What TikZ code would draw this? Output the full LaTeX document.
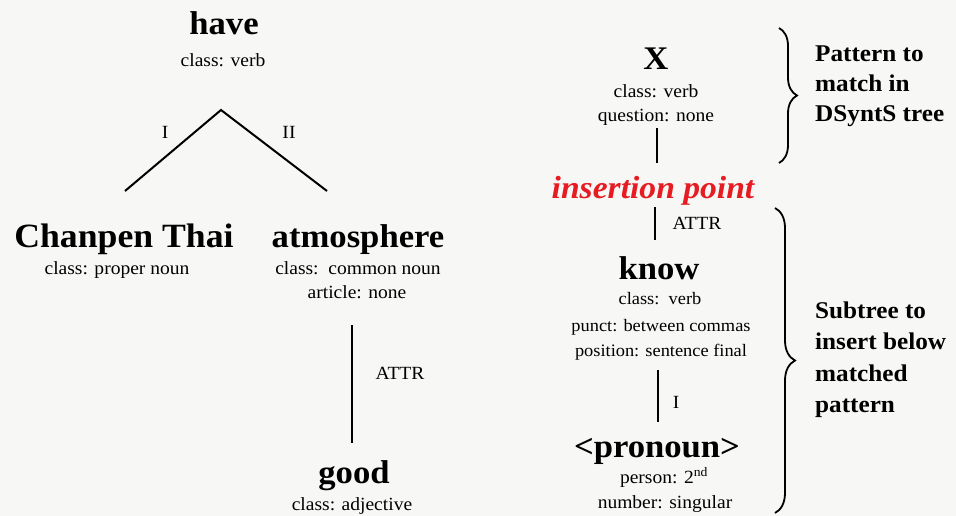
\documentclass[tikz,border=0pt]{standalone}
\usepackage{fontspec}
\setmainfont[FakeStretch=1.05]{Liberation Serif}
\usetikzlibrary{decorations.pathreplacing}
\definecolor{bg}{RGB}{247,248,245}
\definecolor{insred}{RGB}{230,28,34}
\begin{document}
\begin{tikzpicture}[x=1pt,y=-1pt,
  title/.style={anchor=base,inner sep=0pt,font=\fontsize{33}{38}\selectfont\bfseries},
  attr/.style={anchor=base,inner sep=0pt,font=\fontsize{18.6}{22}\selectfont},
  attrs/.style={anchor=base,inner sep=0pt,font=\fontsize{17.5}{21}\selectfont},
  lbl/.style={anchor=base,inner sep=0pt,font=\fontsize{18.6}{22}\selectfont},
  side/.style={anchor=base west,inner sep=0pt,font=\fontsize{24}{28}\selectfont\bfseries},
  edge/.style={line width=2pt},
  bracestyle/.style={line width=1.8pt,decorate,decoration={brace,amplitude=18pt}}]
\fill[bg] (0,0) rectangle (956,516);
\useasboundingbox (0,0) rectangle (956,516);
% left tree
\node[title] (have) at (224,35) {have};
\node[attr] (haveclass) at (223,67) {class: verb};
\coordinate (apex) at (221,110);
\coordinate (lend) at (125,191);
\coordinate (rend) at (327,191);
\draw[edge] (lend) -- (apex) -- (rend);
\node[lbl] (lI) at (165,139) {I};
\node[lbl] (lII) at (289,139) {II};
\node[title,font=\fontsize{34}{38}\selectfont\bfseries] (chanpen) at (124,247) {Chanpen Thai};
\node[attr] (cpclass) at (117,274) {class: proper noun};
\node[title] (atmo) at (358,247) {atmosphere};
\node[attr] (atclass) at (358,274) {class:\ \ common noun};
\node[attr] (atart) at (357,298) {article: none};
\coordinate (attrtop) at (352,325);
\coordinate (attrbot) at (352,443);
\draw[edge] (attrtop) -- (attrbot);
\node[lbl] (attrl) at (400,379) {ATTR};
\node[title] (good) at (354,483) {good};
\node[attr] (goodclass) at (352,510) {class: adjective};
% right pattern
\node[title] (X) at (656,70) {X};
\node[attr] (xclass) at (656,98) {class: verb};
\node[attr] (xq) at (656,122) {question: none};
\coordinate (xl1) at (657,128);
\coordinate (xl2) at (657,163);
\draw[edge] (xl1) -- (xl2);
\node[title,text=insred,font=\fontsize{32}{36}\selectfont\bfseries\itshape] (ins) at (653,198) {insertion point};
\coordinate (il1) at (655,207);
\coordinate (il2) at (655,240);
\draw[edge] (il1) -- (il2);
\node[lbl] (attr2) at (697,229) {ATTR};
\node[title] (know) at (659,279) {know};
\node[attrs] (kclass) at (660,304) {class:\ \ verb};
\node[attrs] (kpunct) at (661,331) {punct: between commas};
\node[attrs] (kpos) at (661,356) {position: sentence final};
\coordinate (kl1) at (658,370);
\coordinate (kl2) at (658,422);
\draw[edge] (kl1) -- (kl2);
\node[lbl] (kI) at (676,408) {I};
\node[title] (pron) at (657,457) {<pronoun>};
\node[attr] (pperson) at (664,483) {person: 2\textsuperscript{nd}};
\node[attr] (pnum) at (665,508) {number: singular};
% braces
\coordinate (b1top) at (779,28);
\coordinate (b1bot) at (779,163);
\draw[bracestyle] (b1top) -- (b1bot);
\coordinate (b2top) at (775,208);
\coordinate (b2bot) at (775,513);
\draw[bracestyle,decoration={brace,amplitude=20pt}] (b2top) -- (b2bot);
\node[side] (s1) at (815,62) {Pattern to};
\node[side] (s2) at (815,92) {match in};
\node[side] (s3) at (815,122) {DSyntS tree};
\node[side] (t1) at (815,318) {Subtree to};
\node[side] (t2) at (815,349) {insert below};
\node[side] (t3) at (815,381) {matched};
\node[side] (t4) at (815,412) {pattern};
\end{tikzpicture}
\end{document}
